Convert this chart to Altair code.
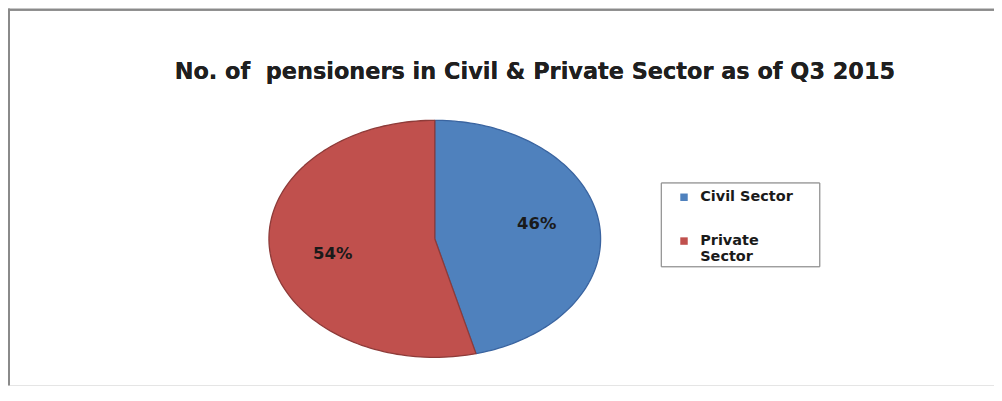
import altair as alt
import pandas as pd

title_text = "No. of\u00a0 pensioners in Civil & Private Sector as of Q3 2015"
categories = ["Civil Sector", "Private Sector"]
values = [46, 54]
slice_order = [0, 1]
fill_colors = ["#4f81bd", "#c0504d"]
edge_colors = ["#3a64a0", "#8e3b39"]

df = pd.DataFrame({"category": categories, "value": values, "order": slice_order})

W, H = 990, 378
N = 120
xscale = alt.Scale(domain=[-1, 1], range=[262, 595])
yscale = alt.Scale(domain=[-1, 1], range=[350, 112])

base = (
    alt.Chart(df)
    .transform_window(cum="sum(value)", sort=[alt.SortField("order")], frame=[None, 0])
    .transform_joinaggregate(total="sum(value)")
    .transform_calculate(
        a0="2*PI*(datum.cum - datum.value)/datum.total",
        a1="2*PI*datum.cum/datum.total",
    )
)

poly = (
    base.transform_calculate(idx=f"sequence(-1, {N + 2})")
    .transform_flatten(["idx"])
    .transform_calculate(
        t=f"datum.a0 + (datum.a1 - datum.a0) * clamp(datum.idx, 0, {N}) / {N}",
        px=f"(datum.idx < 0 || datum.idx > {N}) ? 0 : sin(datum.t)",
        py=f"(datum.idx < 0 || datum.idx > {N}) ? 0 : cos(datum.t)",
    )
    .mark_line(strokeWidth=1.3, strokeJoin="round")
    .encode(
        x=alt.X("px:Q", scale=xscale, axis=None),
        y=alt.Y("py:Q", scale=yscale, axis=None),
        detail="category:N",
        order=alt.Order("idx:Q"),
        fill=alt.Fill(
            "category:N",
            scale=alt.Scale(domain=categories, range=fill_colors),
            legend=alt.Legend(
                orient="none",
                legendX=671.5,
                legendY=182,
                title=None,
                symbolType="square",
                symbolSize=56,
                symbolStrokeWidth=0,
                labelFont="DejaVu Sans",
                labelFontSize=14.5,
                labelFontWeight="bold",
                labelColor="#1a1a1a",
                labelOffset=9,
                rowPadding=29,
                padding=0,
                labelExpr="datum.label == 'Private Sector' ? ['\u00a0Private', 'Sector'] : datum.label",
            ),
        ),
        stroke=alt.Stroke(
            "category:N",
            scale=alt.Scale(domain=categories, range=edge_colors),
            legend=None,
        ),
    )
)

labels = (
    base.transform_calculate(
        mid="(datum.a0 + datum.a1)/2",
        lx="0.62*sin(datum.mid)",
        ly="cos(datum.mid)",
        pct="format(datum.value/datum.total, '.0%')",
    )
    .mark_text(font="DejaVu Sans", fontWeight="bold", fontSize=16.5, color="#1a1a1a")
    .encode(
        x=alt.X("lx:Q", scale=xscale, axis=None),
        y=alt.Y("ly:Q", scale=yscale, axis=None),
        text="pct:N",
    )
)

title = alt.Chart(df).mark_text(
    font="DejaVu Sans", fontWeight="bold", fontSize=22.5, color="#1f1f1f",
    align="center", baseline="alphabetic",
).encode(x=alt.value(529), y=alt.value(71), text=alt.value(title_text))

frame_left = alt.Chart(df).mark_rule(color="#8a8a8a", strokeWidth=2).encode(
    x=alt.value(1), y=alt.value(0), y2=alt.value(H)
)
frame_top = alt.Chart(df).mark_rule(color="#8a8a8a", strokeWidth=2).encode(
    x=alt.value(0), x2=alt.value(W), y=alt.value(1)
)
legend_box = alt.Chart(df).mark_rect(fill="white", stroke="#8a8a8a", strokeWidth=1).encode(
    x=alt.value(656), x2=alt.value(815), y=alt.value(175), y2=alt.value(259)
)

chart = (
    alt.layer(frame_left, frame_top, legend_box, poly, labels, title)
    .properties(width=W, height=H, autosize=alt.AutoSizeParams(type="none"), padding=0)
    .configure_view(stroke=None)
    .configure(background="white")
)

chart.save("out.html", embed_options={"renderer": "svg", "actions": False})
